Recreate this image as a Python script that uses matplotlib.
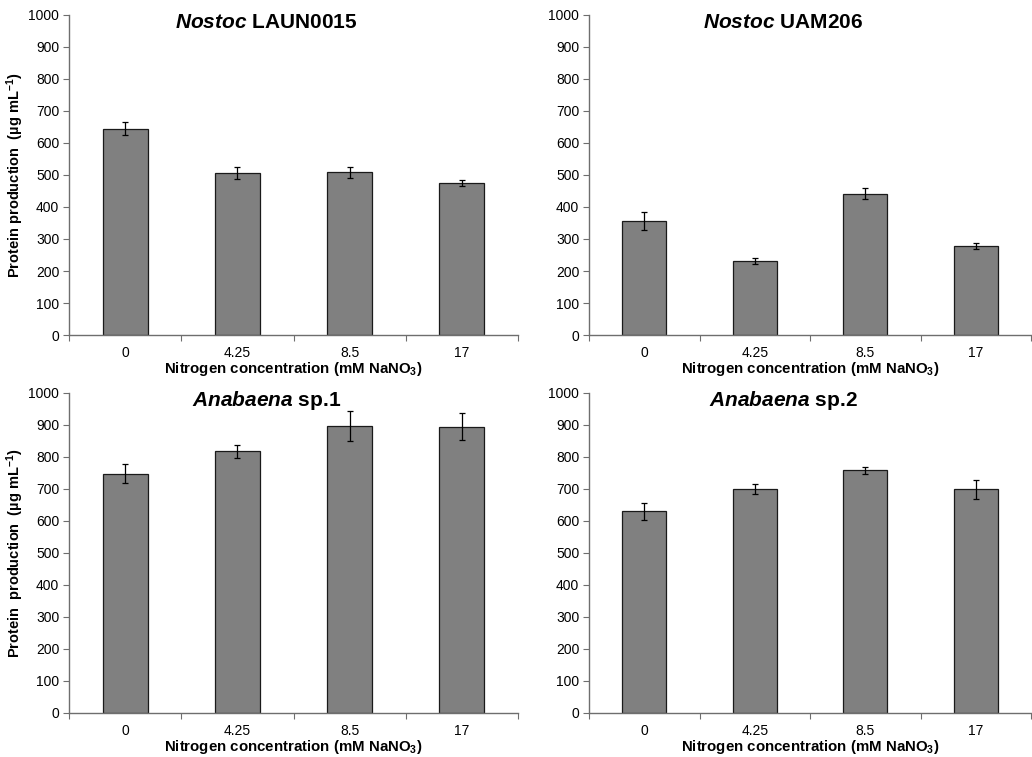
import matplotlib
matplotlib.use("Agg")
import matplotlib.pyplot as plt
import numpy as np

plt.rcParams['font.family'] = ['Liberation Sans', 'DejaVu Sans']
plt.rcParams['mathtext.fontset'] = 'custom'
plt.rcParams['mathtext.rm'] = 'Liberation Sans:bold'
plt.rcParams['mathtext.bf'] = 'Liberation Sans:bold'
plt.rcParams['mathtext.it'] = 'Liberation Sans:bold:italic'

# data
categories = ['0', '4.25', '8.5', '17']

nostoc_laun_mean = [645, 507, 508, 475]
nostoc_laun_err = [20, 18, 18, 9]

nostoc_uam_mean = [355, 232, 442, 278]
nostoc_uam_err = [28, 10, 17, 10]

anabaena1_mean = [748, 818, 897, 895]
anabaena1_err = [29, 20, 47, 42]

anabaena2_mean = [630, 700, 758, 699]
anabaena2_err = [27, 17, 11, 29]

titles = [r'$\it{Nostoc}$ LAUN0015', r'$\it{Nostoc}$ UAM206',
          r'$\it{Anabaena}$ sp.1', r'$\it{Anabaena}$ sp.2']
ylabels = [r'Protein production  (µg mL$^{-1}$)', None,
           r'Protein  production  (µg mL$^{-1}$)', None]
xlabel = r'Nitrogen concentration (mM NaNO$_{3}$)'

means = [nostoc_laun_mean, nostoc_uam_mean, anabaena1_mean, anabaena2_mean]
errs = [nostoc_laun_err, nostoc_uam_err, anabaena1_err, anabaena2_err]

W, H = 1032, 757
fig = plt.figure(figsize=(W / 100, H / 100), dpi=100)

# axes boxes in pixels: left, right, top, bottom
boxes = [(69, 518, 15, 335), (589, 1031, 15, 335),
         (69, 518, 393, 713), (589, 1031, 393, 713)]

spine_col = '#6e6e6e'
for i, (l, r, t, b) in enumerate(boxes):
    ax = fig.add_axes([l / W, 1 - b / H, (r - l) / W, (b - t) / H])
    x = np.arange(len(categories))
    ax.bar(x, means[i], width=0.4, color='#808080', edgecolor='#1a1a1a',
           linewidth=0.9, zorder=2)
    ax.errorbar(x, means[i], yerr=errs[i], fmt='none', ecolor='black',
                elinewidth=0.9, capsize=2, capthick=0.9, zorder=3)
    ax.set_xlim(-0.5, 3.5)
    ax.set_ylim(0, 1000)
    ax.set_yticks(np.arange(0, 1001, 100))
    ax.set_xticks(np.arange(-0.5, 3.6, 1.0))
    ax.set_xticklabels([])
    ax.set_xticks(x, minor=True)
    ax.set_xticklabels(categories, minor=True)
    ax.tick_params(axis='x', which='minor', length=0, pad=8, labelsize=10)
    ax.tick_params(axis='x', which='major', length=4, direction='out',
                   color=spine_col)
    ax.tick_params(axis='y', length=4, direction='out', color=spine_col,
                   labelsize=10, pad=3)
    for s in ['top', 'right']:
        ax.spines[s].set_visible(False)
    for s in ['left', 'bottom']:
        ax.spines[s].set_color(spine_col)
        ax.spines[s].set_linewidth(1.0)
    ax.text(0.44, 0.975, titles[i], transform=ax.transAxes, ha='center',
            va='center', fontsize=15, fontweight='bold')
    ax.set_xlabel(xlabel, fontsize=10.8, fontweight='bold', labelpad=0)
    if ylabels[i]:
        ax.set_ylabel(ylabels[i], fontsize=10.5, fontweight='bold')
        ax.yaxis.set_label_coords(-0.095, 0.5)

fig.savefig('out.png', dpi=100)
